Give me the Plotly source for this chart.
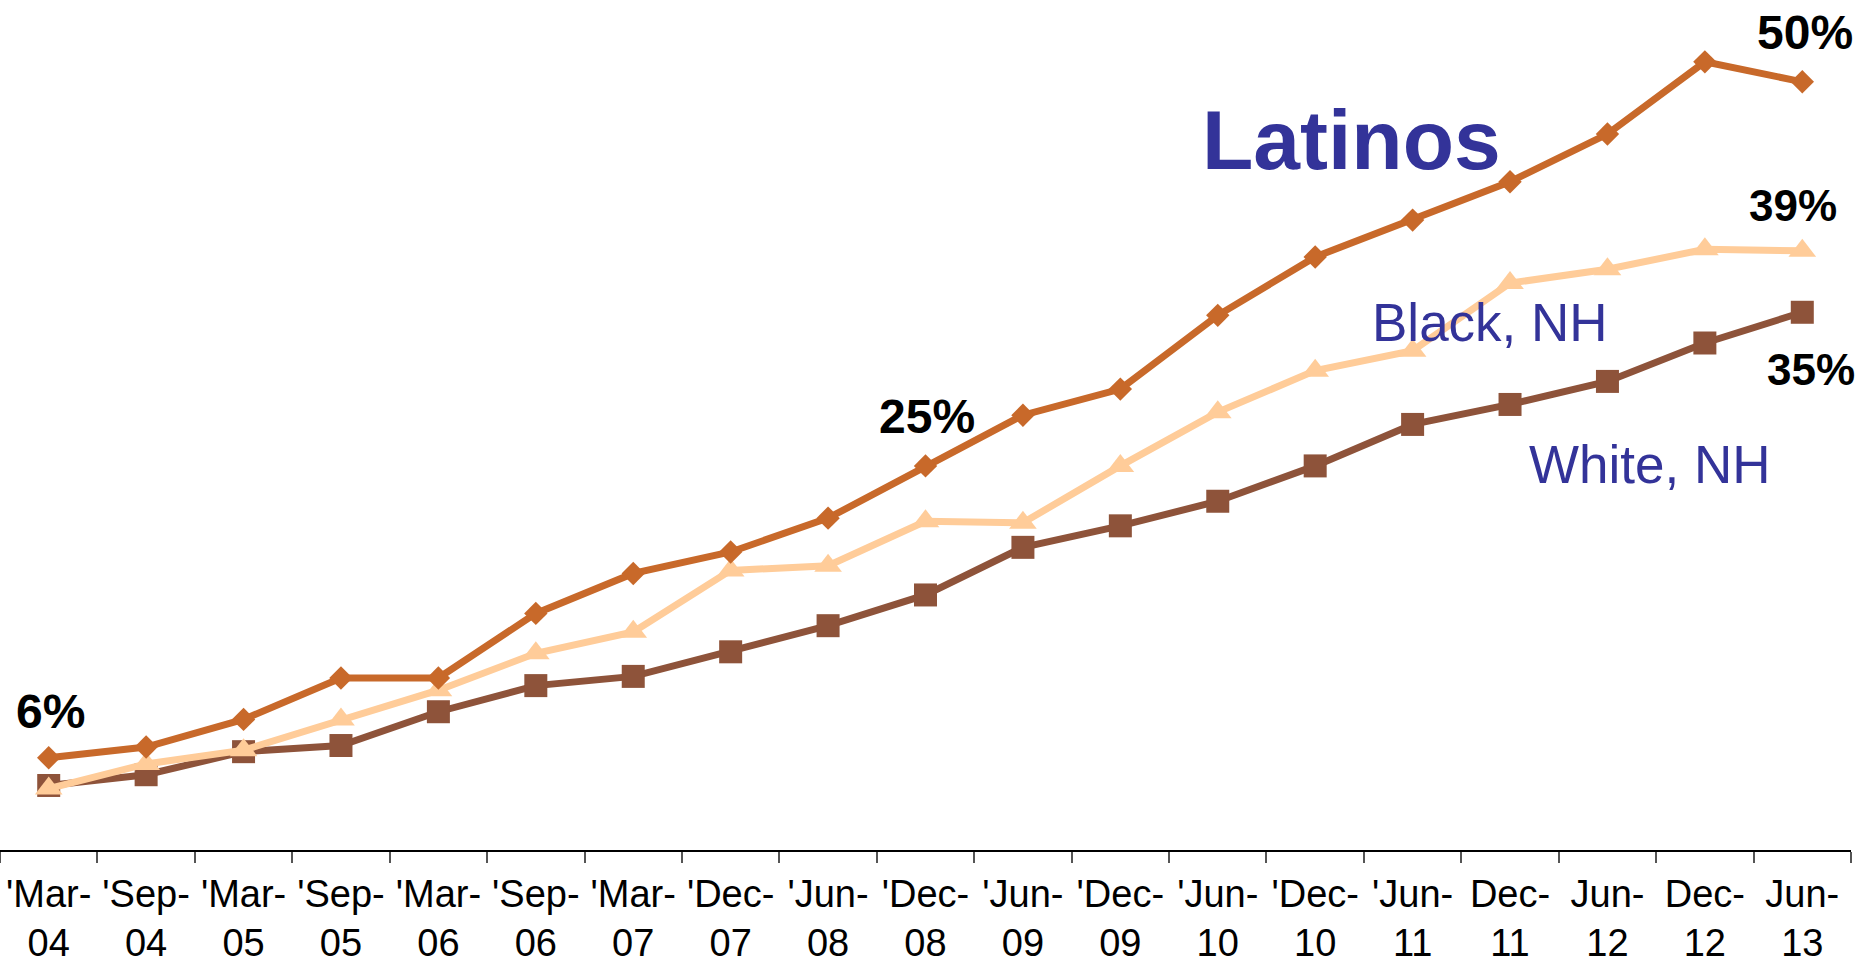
import plotly.graph_objects as go

# Survey waves (x categories) and their two-line tick labels
periods = ["'Mar-04", "'Sep-04", "'Mar-05", "'Sep-05", "'Mar-06", "'Sep-06", "'Mar-07",
           "'Dec-07", "'Jun-08", "'Dec-08", "'Jun-09", "'Dec-09", "'Jun-10", "'Dec-10",
           "'Jun-11", "Dec-11", "Jun-12", "Dec-12", "Jun-13"]
tick_text = [p.replace("-", "-<br>") for p in periods]

# Share of adults (%) in each group
latinos = [6.0, 6.7, 8.5, 11.2, 11.2, 15.4, 18.0, 19.4, 21.6, 25.0, 28.3, 30.0,
           34.8, 38.6, 41.0, 43.5, 46.6, 51.3, 50.0]
black_nh = [4.0, 5.6, 6.5, 8.5, 10.4, 12.8, 14.2, 18.2, 18.5, 21.4, 21.3, 25.0,
            28.5, 31.2, 32.5, 36.9, 37.8, 39.1, 39.0]
white_nh = [4.2, 4.9, 6.4, 6.8, 9.0, 10.7, 11.3, 12.9, 14.6, 16.6, 19.7, 21.1,
            22.7, 25.0, 27.7, 29.0, 30.5, 33.0, 35.0]

C_LAT = "#C8692A"
C_BLK = "#FFCC99"
C_WHT = "#8E533A"
C_LBL = "#333399"
FONT = "Liberation Sans, Arial, sans-serif"

fig = go.Figure()
fig.add_trace(go.Scatter(x=periods, y=white_nh, mode="lines+markers", name="White, NH",
                         line=dict(color=C_WHT, width=7),
                         marker=dict(symbol="square", size=23, color=C_WHT)))
fig.add_trace(go.Scatter(x=periods, y=black_nh, mode="lines+markers", name="Black, NH",
                         line=dict(color=C_BLK, width=7),
                         marker=dict(symbol="triangle-up", size=24, color=C_BLK)))
fig.add_trace(go.Scatter(x=periods, y=latinos, mode="lines+markers", name="Latinos",
                         line=dict(color=C_LAT, width=7),
                         marker=dict(symbol="diamond", size=18, color=C_LAT)))

# Value callouts attached to their data points
def value_label(idx, series, shift_x, shift_y, size):
    fig.add_annotation(x=periods[idx], y=series[idx], text=f"<b>{series[idx]:.0f}%</b>",
                       showarrow=False, xshift=shift_x, yshift=shift_y,
                       xanchor="center", yanchor="middle",
                       font=dict(family=FONT, size=size, color="black"))

value_label(0, latinos, 2, 46, 48)
value_label(9, latinos, 1, 49, 48)
value_label(18, latinos, 3, 49, 48)
value_label(18, black_nh, -9, 45, 44)
value_label(18, white_nh, 9, -57, 44)

# Series names
def series_name(x, y, text, size):
    fig.add_annotation(xref="paper", yref="paper", x=x, y=y, text=text,
                       xanchor="center", yanchor="middle", showarrow=False,
                       font=dict(family=FONT, size=size, color=C_LBL))

series_name(0.730, 0.840, "<b>Latinos</b>", 84)
series_name(0.805, 0.624, "Black, NH", 53)
series_name(0.891, 0.456, "White, NH", 53)

fig.update_layout(
    width=1860, height=965,
    margin=dict(l=0, r=9, t=5, b=115, autoexpand=False),
    paper_bgcolor="white", plot_bgcolor="white",
    showlegend=False,
    xaxis=dict(type="category", tickvals=periods, ticktext=tick_text,
               tickson="boundaries", ticks="outside", ticklen=11, tickwidth=2,
               tickcolor="#555555", showline=True, linecolor="black", linewidth=2,
               showgrid=False, zeroline=False, ticklabelstandoff=9, tickangle=0,
               automargin=False,
               tickfont=dict(family=FONT, size=38, color="black"),
               range=[-0.5, 18.5]),
    yaxis=dict(range=[0, 55], visible=False, showgrid=False, zeroline=False),
)

fig.write_html("out.html")
